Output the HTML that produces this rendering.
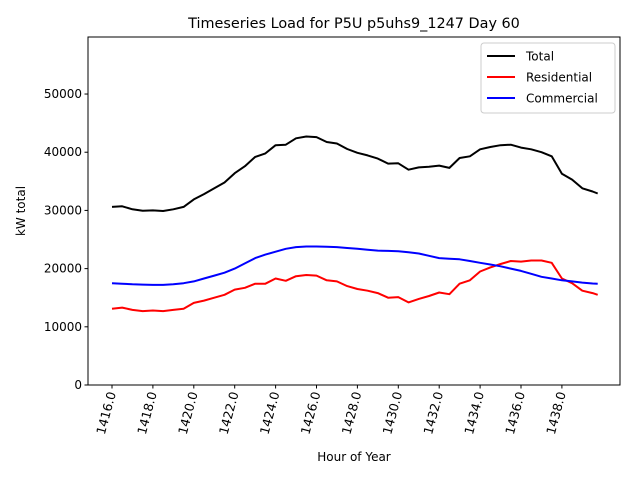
<!DOCTYPE html>
<html><head><meta charset="utf-8"><style>
body{margin:0;background:#fff;font-family:"DejaVu Sans","Liberation Sans",sans-serif}
svg text{font-family:"DejaVu Sans","Liberation Sans",sans-serif}
</style></head><body>
<svg id="chart" width="640" height="480">
<rect width="640" height="480" fill="#fff"/>
<text x="354" y="28" text-anchor="middle" font-size="14.4">Timeseries Load for P5U p5uhs9_1247  Day 60</text>
<g id="plot"></g>
<text x="354" y="461" text-anchor="middle" font-size="12">Hour of Year</text>
<text transform="translate(25,211) rotate(-90)" text-anchor="middle" font-size="12">kW total</text>
</svg>
<script>
const hours=[1416,1416.5,1417,1417.5,1418,1418.5,1419,1419.5,1420,1420.5,1421,1421.5,1422,1422.5,1423,1423.5,1424,1424.5,1425,1425.5,1426,1426.5,1427,1427.5,1428,1428.5,1429,1429.5,1430,1430.5,1431,1431.5,1432,1432.5,1433,1433.5,1434,1434.5,1435,1435.5,1436,1436.5,1437,1437.5,1438,1438.5,1439,1439.5,1439.75];
const residential=[13100,13300,12900,12700,12800,12700,12900,13100,14100,14500,15000,15500,16400,16700,17400,17400,18300,17900,18700,18900,18800,18000,17800,17000,16500,16200,15800,15000,15100,14200,14800,15300,15900,15600,17400,18000,19500,20200,20800,21300,21200,21400,21400,21000,18300,17500,16200,15800,15500];
const commercial=[17500,17400,17300,17250,17200,17200,17300,17500,17800,18300,18800,19300,20000,20900,21800,22400,22900,23400,23700,23800,23800,23750,23700,23550,23400,23250,23100,23050,23000,22800,22600,22200,21800,21700,21600,21300,21000,20700,20400,20000,19600,19100,18600,18300,18000,17800,17600,17450,17400];
const yTicks=[0,10000,20000,30000,40000,50000];
const xTicks=[1416,1418,1420,1422,1424,1426,1428,1430,1432,1434,1436,1438];
const L=88,R=620,T=37,B=385;
const xs=h=>112+(h-1416)*20.45;
const ys=v=>B-v*(B-T)/59800;
const NS="http://www.w3.org/2000/svg";
const g=document.getElementById('plot');
function el(t,a){const e=document.createElementNS(NS,t);for(const k in a)e.setAttribute(k,a[k]);g.appendChild(e);return e;}
const total=residential.map((r,i)=>r+commercial[i]);
function line(vals,color,name){
 const p=el('polyline',{points:vals.map((v,i)=>xs(hours[i]).toFixed(1)+','+ys(v).toFixed(1)).join(' '),fill:'none',stroke:color,'stroke-width':2,'stroke-linejoin':'round'});
 
 
}
line(total,'#000','total-line');
line(residential,'#ff0000','residential-line');
line(commercial,'#0000ff','commercial-line');
const fr=el('rect',{x:L,y:T,width:R-L,height:B-T,fill:'none',stroke:'#000','stroke-width':1});


yTicks.forEach(v=>{
 const y=ys(v);
 el('line',{x1:L-3.5,x2:L,y1:y,y2:y,stroke:'#000'});
 const t=el('text',{x:L-6,y:y+4,'text-anchor':'end','font-size':12});
 t.textContent=v;
 
 
});
xTicks.forEach(h=>{
 const x=xs(h);
 el('line',{x1:x,x2:x,y1:B,y2:B+3.5,stroke:'#000'});
 const t=el('text',{transform:`translate(${x+4},${B+8}) rotate(-75)`,'text-anchor':'end','font-size':12.5});
 t.textContent=h.toFixed(1);
 
 
});
const lg=el('rect',{x:481,y:43,width:134,height:70,fill:'#fff',stroke:'#ccc',rx:3});


[['Total','#000'],['Residential','#ff0000'],['Commercial','#0000ff']].forEach((d,i)=>{
 const y=56+i*21;
 el('line',{x1:487,x2:515,y1:y,y2:y,stroke:d[1],'stroke-width':2});
 const t=el('text',{x:526,y:y+4.5,'font-size':12});
 t.textContent=d[0];
 
 
});
</script>
</body></html>
